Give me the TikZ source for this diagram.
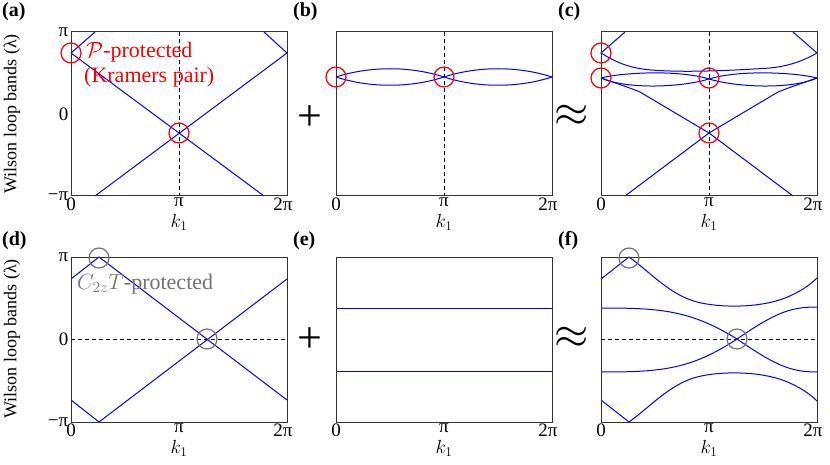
\documentclass[tikz,border=0pt]{standalone}
\usepackage{fix-cm}
\usepackage{fontspec}
\setmainfont{Liberation Serif}
\begin{document}
\begin{tikzpicture}[x=1pt,y=-1pt,
  box/.style={draw=black!80,line width=1pt},
  band/.style={draw=blue,line width=1pt},
  guide/.style={draw=black,dash pattern=on 4pt off 3pt,line width=1pt},
  rc/.style={draw=red,line width=1.2pt,circle,minimum size=20pt,inner sep=0},
  gc/.style={draw=black!55,line width=1.2pt,circle,minimum size=20pt,inner sep=0},
  tick/.style={font=\fontsize{19}{19}\selectfont,inner sep=0.5pt},
  plab/.style={font=\fontsize{20}{20}\selectfont\bfseries,anchor=north west,inner sep=0},
  op/.style={font=\fontsize{44}{44}\selectfont},
  ylab/.style={rotate=90,font=\fontsize{18}{18}\selectfont}]
\useasboundingbox (0,0) rectangle (830,465);
% panel letters
\node[plab] (la) at (2,2) {(a)};
\node[plab] (lb) at (293,2) {(b)};
\node[plab] (lc) at (558,2) {(c)};
\node[plab] (ld) at (2,231) {(d)};
\node[plab] (le) at (293,231) {(e)};
\node[plab] (lf) at (558,231) {(f)};
\node[op] (p1) at (310,118) {+};
\node[op] (p2) at (310,340) {+};
\node[op] (a1) at (572,116) {$\approx$};
\node[op] (a2) at (572,338) {$\approx$};
% y labels
\node[ylab] (yl1) at (12,114) {Wilson loop bands (λ)};
\node[ylab] (yl2) at (12,339) {Wilson loop bands (λ)};
\foreach \y/\t in {32/π,114/0,196/−π}{\node[tick,anchor=east] at (69,\y) {\t};}
\foreach \y/\t in {257/π,339/0,422/−π}{\node[tick,anchor=east] at (69,\y) {\t};}
% x ticks
\foreach \x in {71,336,601}{
  \foreach \b in {197,423}{
    \node[tick,anchor=north] at (\x,\b) {0};
    \node[tick,anchor=north] at (\x+108,\b) {π};
    \node[tick,anchor=north] at (\x+212,\b) {2π};
    \node[tick,anchor=north] at (\x+108,\b+17) {$k_1$};
  }
}
% ---- (a)
\draw[guide] (179,32) -- (179,196);
\draw[band] (95,32) -- (71,53) -- (264,196);
\draw[band] (264,32) -- (287,53) -- (95,196);
\draw[box] (71,32) rectangle (287,196);
\node[rc] (ca1) at (71,53) {};
\node[rc] (ca2) at (179,133) {};
\node[red,font=\fontsize{22}{22}\selectfont,anchor=west,inner sep=0] (ta1) at (86,52) {$\mathcal{P}$-protected};
\node[red,font=\fontsize{22}{22}\selectfont,anchor=west,inner sep=0] (ta2) at (84,77) {(Kramers pair)};
% ---- (b)
\draw[guide] (444,32) -- (444,196);
\draw[band] (336,77) .. controls (370,66) and (410,66) .. (444,77) .. controls (478,66) and (518,66) .. (552,77);
\draw[band] (336,77) .. controls (370,88) and (410,88) .. (444,77) .. controls (478,88) and (518,88) .. (552,77);
\draw[box] (336,32) rectangle (552,196);
\node[rc] (cb1) at (336,77) {};
\node[rc] (cb2) at (444,77) {};
% ---- (c)
\draw[guide] (709,32) -- (709,196);
\draw[band] (625,32) -- (601,53) .. controls (625,68) and (640,70) .. (670,71) .. controls (700,72) and (740,70) .. (770,68) .. controls (790,66) and (805,60) .. (817,53) -- (793,32);
\draw[band] (601,78) .. controls (625,72) and (680,70) .. (709,79) .. controls (735,87) and (790,90) .. (817,78);
\draw[band] (817,78) .. controls (793,72) and (738,70) .. (709,79) .. controls (683,87) and (628,90) .. (601,78);
\draw[band] (601,78) .. controls (615,83) and (625,86) .. (640,92) -- (709,133) -- (793,196);
\draw[band] (817,78) .. controls (803,83) and (793,86) .. (778,92) -- (709,133) -- (625,196);
\draw[box] (601,32) rectangle (817,196);
\node[rc] (cc1) at (601,53) {};
\node[rc] (cc2) at (601,78) {};
\node[rc] (cc3) at (709,78) {};
\node[rc] (cc4) at (709,133) {};
% ---- (d)
\draw[guide] (71,339) -- (287,339);
\draw[band] (71,279) -- (99,257) -- (287,400);
\draw[band] (71,400) -- (99,422) -- (287,279);
\draw[box] (71,257) rectangle (287,422);
\node[gc] (cd1) at (99,258) {};
\node[gc] (cd2) at (207,339) {};
\node[black!55,font=\fontsize{22}{22}\selectfont,anchor=west,inner sep=0] (td) at (77,284) {$C_{2z}T$-protected};
% ---- (e)
\draw[band] (336,308) -- (552,308);
\draw[band] (336,371) -- (552,371);
\draw[box] (336,257) rectangle (552,422);
% ---- (f)
\draw[guide] (601,339) -- (817,339);
\draw[band] (601,279) -- (629,257) .. controls (650,272) and (670,295) .. (697,302) .. controls (720,308) and (760,308) .. (785,298) .. controls (800,292) and (810,285) .. (817,278);
\draw[band] (601,400) -- (629,422) .. controls (650,407) and (670,384) .. (697,377) .. controls (720,371) and (760,371) .. (785,381) .. controls (800,387) and (810,394) .. (817,401);
\draw[band] (601,308) .. controls (660,308) and (690,310) .. (737,339) .. controls (775,365) and (790,372) .. (817,372);
\draw[band] (601,372) .. controls (660,372) and (690,370) .. (737,339) .. controls (775,313) and (790,307) .. (817,307);
\draw[box] (601,257) rectangle (817,422);
\node[gc] (cf1) at (629,258) {};
\node[gc] (cf2) at (737,339) {};
\end{tikzpicture}
\end{document}
